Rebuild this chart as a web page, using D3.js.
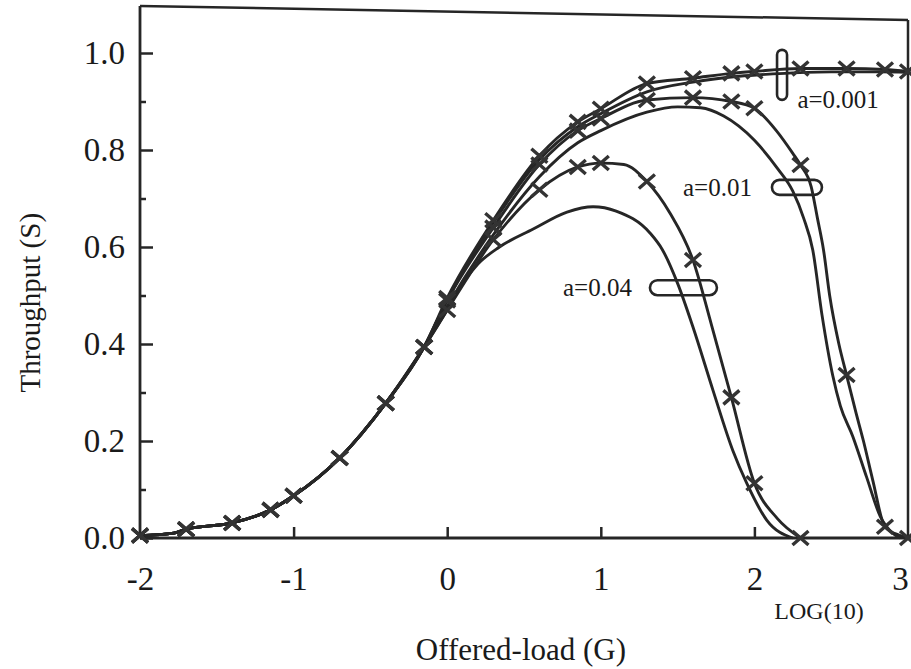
<!DOCTYPE html>
<html>
<head>
<meta charset="utf-8">
<script src="https://cdn.jsdelivr.net/npm/d3@7"></script>
<style>
  html, body { margin: 0; padding: 0; background: #fff; }
  svg { display: block; }
  text { font-family: "Liberation Serif", "Times New Roman", serif; fill: #1a1a1a; }
</style>
</head>
<body>
<svg id="chart" width="911" height="669"></svg>
<script>
// ---------- data ----------
const xTicks = [-2, -1, 0, 1, 2, 3];
const yTicks = [0.0, 0.2, 0.4, 0.6, 0.8, 1.0];
const yMinorTicks = [0.1, 0.3, 0.5, 0.7, 0.9];
const xLabel = "Offered-load (G)";
const xUnitLabel = "LOG(10)";
const yLabel = "Throughput (S)";

// x positions (log10 G) where the simulation markers sit
const markX = [-2, -1.7, -1.4, -1.15, -1, -0.7, -0.4, -0.15, 0, 0.3, 0.6, 0.85, 1, 1.3, 1.6, 1.85, 2, 2.3, 2.6, 2.85, 3];

// common low-load part shared by all curves
const baseX = [-2, -1.78, -1.7, -1.4, -1.15, -1, -0.7, -0.4, -0.15];
const baseY = [0.005, 0.01, 0.018, 0.031, 0.058, 0.087, 0.165, 0.278, 0.394];

// a = 0.001
const a001SimX = [0, 0.3, 0.6, 0.85, 1, 1.3, 1.6, 1.85, 2, 2.3, 2.6, 2.85, 3];
const a001SimY = [0.495, 0.655, 0.788, 0.858, 0.885, 0.937, 0.948, 0.958, 0.962, 0.968, 0.968, 0.966, 0.962];
const a001AnaX = [0, 0.3, 0.6, 0.85, 1, 1.3, 1.6, 1.9, 2.2, 2.5, 2.8, 3];
const a001AnaY = [0.49, 0.65, 0.78, 0.848, 0.875, 0.92, 0.94, 0.952, 0.958, 0.961, 0.961, 0.96];

// a = 0.01
const a01SimX = [0, 0.3, 0.6, 0.85, 1, 1.3, 1.6, 1.85, 2, 2.14, 2.25, 2.3, 2.37, 2.41, 2.45, 2.49, 2.55, 2.6, 2.66, 2.71, 2.77, 2.85, 2.95, 3];
const a01SimY = [0.49, 0.64, 0.77, 0.84, 0.865, 0.903, 0.908, 0.9, 0.886, 0.841, 0.793, 0.769, 0.724, 0.66, 0.594, 0.5, 0.4, 0.336, 0.26, 0.2, 0.12, 0.023, 0.005, 0];
const a01AnaX = [0, 0.3, 0.6, 0.85, 1, 1.3, 1.5, 1.65, 1.8, 2, 2.15, 2.25, 2.32, 2.38, 2.44, 2.51, 2.56, 2.64, 2.73, 2.82, 2.9, 2.95];
const a01AnaY = [0.478, 0.625, 0.745, 0.815, 0.84, 0.878, 0.889, 0.887, 0.87, 0.82, 0.762, 0.715, 0.66, 0.594, 0.46, 0.335, 0.272, 0.21, 0.126, 0.044, 0.01, 0];

// a = 0.04
const a04SimX = [0, 0.3, 0.6, 0.85, 1, 1.15, 1.3, 1.45, 1.6, 1.72, 1.85, 2, 2.15, 2.3];
const a04SimY = [0.47, 0.615, 0.718, 0.765, 0.773, 0.77, 0.735, 0.67, 0.573, 0.44, 0.29, 0.113, 0.04, 0];
const a04AnaX = [0, 0.1, 0.2, 0.34, 0.56, 0.78, 0.95, 1.1, 1.32, 1.4, 1.5, 1.6, 1.73, 1.86, 1.95, 2.08, 2.25];
const a04AnaY = [0.47, 0.525, 0.565, 0.6, 0.637, 0.672, 0.683, 0.674, 0.629, 0.595, 0.525, 0.435, 0.305, 0.18, 0.113, 0.037, 0];

// annotations: label, label anchor (data), bracket centre (data), bracket size in px
const annLabels = ["a=0.001", "a=0.01", "a=0.04"];
const annTextX = [2.28, 1.535, 0.754];
const annTextY = [0.887, 0.706, 0.499];
const annBoxX = [2.18, 2.277, 1.538];
const annBoxY = [0.955, 0.723, 0.516];
const annBoxW = [10, 50, 67];
const annBoxH = [50, 15, 15];

// ---------- layout ----------
const svg = d3.select("#chart");
const W = 911, H = 669;
const left = 140, right = 908, bottom = 538;

const x = d3.scaleLinear().domain([-2, 3]).range([left, right]);
const y = d3.scaleLinear().domain([0, 1]).range([bottom, bottom - 485]);

svg.append("rect").attr("width", W).attr("height", H).attr("fill", "#fff");

const ink = "#262626";

// frame (top edge slightly slanted as in the scan)
const frameTop = [1.097, 1.068];
svg.append("line").attr("x1", x(-2)).attr("x2", x(3))
  .attr("y1", y(frameTop[0])).attr("y2", y(frameTop[1]))
  .attr("stroke", ink).attr("stroke-width", 2.5);
svg.append("line").attr("x1", x(3)).attr("x2", x(3))
  .attr("y1", y(frameTop[1])).attr("y2", y(0))
  .attr("stroke", ink).attr("stroke-width", 2.5);

// y axis (ticks pointing inward)
const gy = svg.append("g").attr("transform", `translate(${left},0)`)
  .call(d3.axisLeft(y).tickValues(yTicks).tickFormat(d3.format(".1f"))
    .tickSizeInner(-13).tickSizeOuter(0).tickPadding(15));
gy.select(".domain").remove();
gy.selectAll(".tick line").attr("stroke", ink).attr("stroke-width", 2.5);
gy.selectAll(".tick text").attr("font-size", 33).attr("font-family", "Liberation Serif").attr("fill", "#1a1a1a");

const gym = svg.append("g").attr("transform", `translate(${left},0)`)
  .call(d3.axisLeft(y).tickValues(yMinorTicks).tickFormat("").tickSizeInner(-6).tickSizeOuter(0));
gym.select(".domain").remove();
gym.selectAll(".tick line").attr("stroke", ink).attr("stroke-width", 2.5);

svg.append("line").attr("x1", left).attr("x2", left)
  .attr("y1", y(frameTop[0])).attr("y2", y(0))
  .attr("stroke", ink).attr("stroke-width", 2.8);

// x axis (ticks pointing inward)
const gx = svg.append("g").attr("transform", `translate(0,${bottom})`)
  .call(d3.axisBottom(x).tickValues(xTicks).tickFormat(d => String(d))
    .tickSizeInner(-11).tickSizeOuter(0).tickPadding(29));
gx.select(".domain").remove();
gx.selectAll(".tick line").attr("stroke", ink).attr("stroke-width", 2.5)
  .filter(d => d === -2 || d === 3).remove();
gx.selectAll(".tick text").attr("font-size", 33).attr("font-family", "Liberation Serif").attr("fill", "#1a1a1a")
  .attr("dx", d => d === 3 ? -8 : 0);

svg.append("line").attr("x1", left).attr("x2", right)
  .attr("y1", bottom).attr("y2", bottom)
  .attr("stroke", ink).attr("stroke-width", 2.8);

// axis titles
svg.append("text").attr("x", x(0.48)).attr("y", 660)
  .attr("text-anchor", "middle").attr("font-size", 31).text(xLabel);
svg.append("text").attr("x", x(2.13)).attr("y", 619)
  .attr("font-size", 24).text(xUnitLabel);
svg.append("text")
  .attr("transform", `translate(40,${y(0.485)}) rotate(-90)`)
  .attr("text-anchor", "middle").attr("font-size", 29).text(yLabel);

// ---------- curves ----------
const line = d3.line().x(d => x(d[0])).y(d => y(d[1])).curve(d3.curveMonotoneX);
function pts(xs, ys) { return baseX.map((v, i) => [v, baseY[i]]).concat(xs.map((v, i) => [v, ys[i]])); }

const curves = [
  { pts: pts(a04AnaX, a04AnaY), marks: false },
  { pts: pts(a04SimX, a04SimY), marks: true },
  { pts: pts(a01AnaX, a01AnaY), marks: false },
  { pts: pts(a01SimX, a01SimY), marks: true },
  { pts: pts(a001AnaX, a001AnaY), marks: false },
  { pts: pts(a001SimX, a001SimY), marks: true }
];

const gc = svg.append("g");
curves.forEach(c => {
  gc.append("path").attr("d", line(c.pts)).attr("fill", "none")
    .attr("stroke", ink).attr("stroke-width", 2.9).attr("stroke-linejoin", "round");
});

// X markers
const markSet = new Set(markX.map(v => v.toFixed(2)));
curves.filter(c => c.marks).forEach(c => {
  c.pts.filter(p => markSet.has(p[0].toFixed(2))).forEach(p => {
    const cx = x(p[0]), cy = y(p[1]), hw = 8, hh = 7;
    gc.append("path")
      .attr("d", `M${cx - hw},${cy - hh}L${cx + hw},${cy + hh}M${cx - hw},${cy + hh}L${cx + hw},${cy - hh}`)
      .attr("stroke", "#333").attr("stroke-width", 3.4).attr("fill", "none");
  });
});

// ---------- annotations ----------
annLabels.forEach((t, i) => {
  svg.append("rect")
    .attr("x", x(annBoxX[i]) - annBoxW[i] / 2).attr("y", y(annBoxY[i]) - annBoxH[i] / 2)
    .attr("width", annBoxW[i]).attr("height", annBoxH[i])
    .attr("rx", Math.min(annBoxW[i], annBoxH[i]) / 2)
    .attr("fill", "none").attr("stroke", ink).attr("stroke-width", 2.6);
  svg.append("text").attr("x", x(annTextX[i])).attr("y", y(annTextY[i]))
    .attr("font-size", 25).text(t);
});
</script>
</body>
</html>
